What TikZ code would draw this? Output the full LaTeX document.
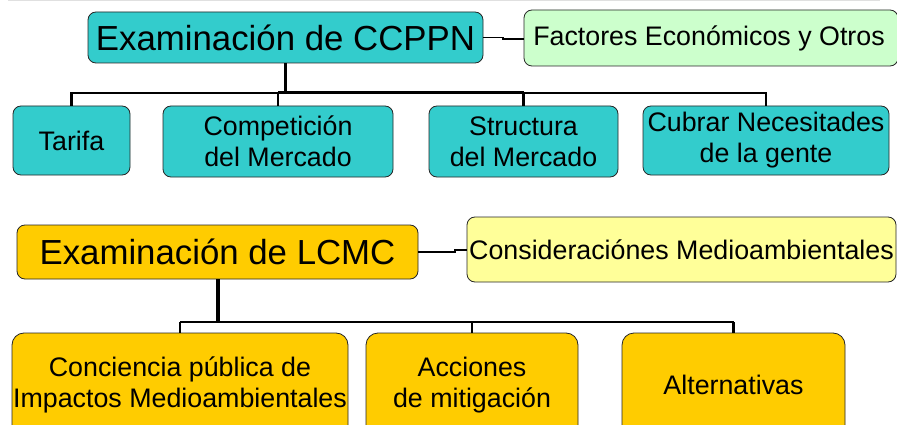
\documentclass[tikz,border=0pt]{standalone}
\usepackage{fontspec}
\setmainfont{Liberation Sans}
\begin{document}
\begin{tikzpicture}[x=1pt,y=-1pt,
  boxbase/.style={draw=black!85,line width=0.8pt,inner sep=0pt,align=center,text=black},
  teal/.style={boxbase,fill=tealfill,rounded corners=8pt},
  gold/.style={boxbase,fill=goldfill,rounded corners=12pt},
  titlefont/.style={font=\fontsize{34.8}{40}\selectfont},
  childfont/.style={font=\fontsize{26.8}{31}\selectfont},
  trunk/.style={line width=3.2pt},
  bar/.style={line width=2.2pt},
  side/.style={line width=1.8pt}]
\definecolor{tealfill}{HTML}{33CCCC}
\definecolor{goldfill}{HTML}{FFCC00}
\definecolor{greenfill}{HTML}{CCFFCC}
\definecolor{yellowfill}{HTML}{FFFF99}
\clip (0,0) rectangle (897,425);
\fill[white] (0,0) rectangle (897,425);
\draw[black!12,line width=1pt] (8,0.5) -- (880,0.5);
% top section
\node[teal,titlefont,minimum width=395pt,minimum height=51pt] (ccppn) at (285.5,37.5) {Examinación de CCPPN};
\node[boxbase,fill=greenfill,rounded corners=8pt,childfont,minimum width=374pt,minimum height=56pt] (fact) at (711,38) {\hspace*{-2pt}Factores Económicos y Otros\hspace*{2pt}};
\node[teal,childfont,minimum width=117pt,minimum height=69pt] (tarifa) at (71.5,140.5) {Tarifa};
\node[teal,childfont,minimum width=230pt,minimum height=71pt] (compet) at (278,141.5) {Competición\\del Mercado};
\node[teal,childfont,minimum width=189pt,minimum height=71pt] (struct) at (523.5,141.5) {Structura\\del Mercado};
\node[teal,childfont,minimum width=246pt,minimum height=69pt] (cubrar) at (766,140.5) {Cubrar Necesitades\\de la gente};
\coordinate (j1) at (285.5,93);
\coordinate (s1) at (503,37.5);
\draw[trunk] (ccppn.south) -- (j1);
\draw[bar,line width=3pt] (compet.north |- j1) -- (struct.north |- j1);
\draw[bar] (tarifa.north) |- (j1);
\draw[bar] (cubrar.north) |- (j1);
\draw[bar] (compet.north) -- (compet.north |- j1);
\draw[bar] (struct.north) -- (struct.north |- j1);
\draw[side] (ccppn.east |- s1) -- (s1) -- ++(0,1.5) -- (fact.west |- 0,39);
% bottom section
\node[gold,rounded corners=8pt,titlefont,minimum width=401pt,minimum height=54pt] (lcmc) at (217.5,252) {Examinación de LCMC};
\node[boxbase,fill=yellowfill,rounded corners=8pt,childfont,minimum width=429pt,minimum height=65pt] (consid) at (681.5,249.5) {Consideraciónes Medioambientales};
\node[gold,childfont,minimum width=336pt,minimum height=104pt] (conc) at (180,385) {Conciencia pública de\\Impactos Medioambientales};
\node[gold,childfont,minimum width=212pt,minimum height=104pt] (acc) at (472,385) {Acciones\\de mitigación};
\node[gold,childfont,minimum width=223pt,minimum height=104pt] (alt) at (733.5,385) {Alternativas};
\coordinate (j2) at (218,322);
\coordinate (s2) at (455,252);
\draw[trunk] (lcmc.south -| j2) -- (j2);
\draw[bar,line width=2.8pt] (conc.north |- j2) -- (alt.north |- j2);
\draw[bar] (conc.north) -- (conc.north |- j2);
\draw[bar] (acc.north) -- (acc.north |- j2);
\draw[bar] (alt.north) -- (alt.north |- j2);
\draw[side] (lcmc.east |- s2) -- (s2) -- ++(0,-2) -- (consid.west |- 0,250);
\end{tikzpicture}
\end{document}
